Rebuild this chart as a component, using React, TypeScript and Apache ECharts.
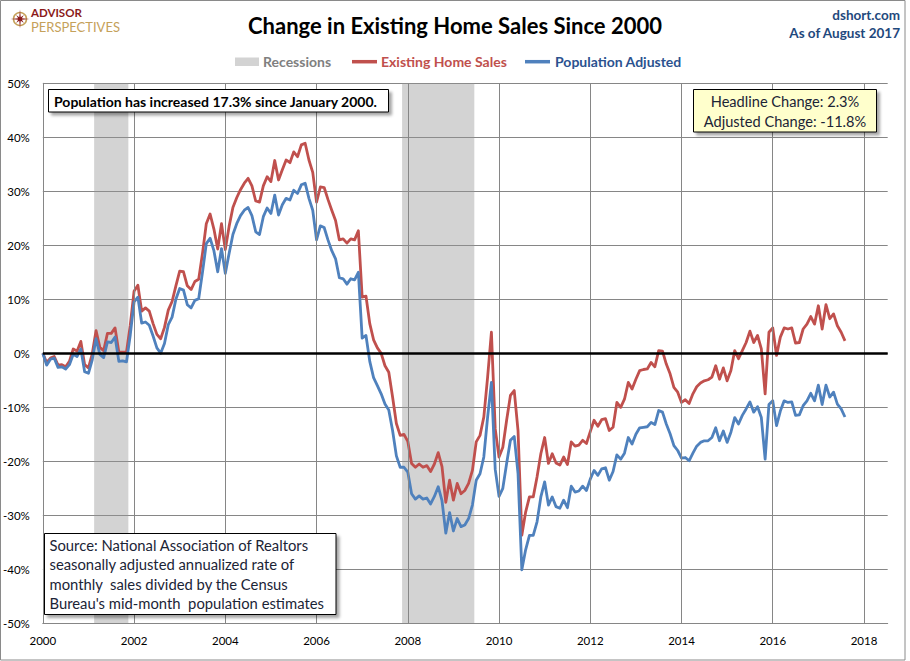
import React, { useEffect, useRef } from "react";
import * as echarts from "echarts";

const START_YEAR = 2000;

// Existing Home Sales, % change since Jan 2000 (monthly, Jan 2000 - Aug 2017)
const existingHomeSales = [
  0.0, -1.7, -0.9, -0.6, -2.2, -2.1, -2.5, -1.5, 0.8, 0.4, 2.2, -2.1,
  -2.7, -0.1, 4.2, 1.1, 0.5, 3.7, 3.7, 4.7, 0.2, 0.2, 0.2, 5.2,
  11.5, 12.6, 7.8, 8.4, 7.8, 5.5, 3.5, 2.7, 4.8, 8.0, 9.6, 12.5,
  15.2, 15.1, 12.5, 11.8, 13.3, 13.7, 18.5, 24.0, 25.8, 23.0, 19.3, 24.0,
  19.2, 23.5, 27.0, 28.8, 30.3, 31.5, 32.4, 31.0, 28.2, 28.0, 31.0, 32.7,
  31.8, 35.7, 32.1, 34.0, 35.8, 35.3, 37.3, 36.4, 38.6, 38.9, 35.8, 33.5,
  28.0, 30.8, 30.7, 28.5, 26.5, 24.6, 21.0, 21.2, 20.4, 21.2, 21.0, 22.7,
  10.4, 10.6, 5.5, 2.5, 1.0, 0.0, -2.3, -3.5, -8.1, -13.0, -15.2, -15.0,
  -16.3, -20.4, -21.1, -20.5, -21.1, -20.8, -21.9, -20.5, -18.4, -21.0, -27.6, -23.5,
  -27.2, -24.1, -26.0, -25.4, -24.1, -21.7, -16.4, -15.2, -11.8, -4.4, 3.9, -14.0,
  -19.2, -17.4, -12.4, -7.8, -6.9, -14.3, -33.7, -29.4, -26.6, -26.6, -22.9, -18.6,
  -15.6, -20.4, -18.6, -20.3, -20.7, -19.2, -20.6, -16.4, -17.2, -17.0, -16.1, -16.7,
  -14.5, -12.4, -13.5, -12.3, -12.1, -14.3, -13.7, -9.1, -10.0, -8.5, -5.4, -6.6,
  -4.8, -3.2, -3.0, -2.9, -1.7, -2.5, 0.5, 0.4, -2.0, -3.8, -6.3, -7.2,
  -9.1, -8.6, -9.3, -7.5, -6.2, -5.5, -5.1, -4.9, -4.4, -2.3, -4.8, -2.7,
  -5.1, -3.2, 0.5, -1.0, 0.5, 2.0, 4.1, 2.0, 3.3, 0.8, -7.5, 3.9,
  4.7, -0.4, 3.0, 4.7, 4.5, 4.7, 1.9, 2.0, 4.5, 5.4, 6.8, 5.4,
  8.8, 4.5, 9.0, 6.4, 7.3, 5.1, 3.9, 2.3,
];

// Population Adjusted, % change since Jan 2000
const populationAdjusted = [
  0.0, -2.2, -1.1, -0.9, -2.6, -2.5, -2.9, -2.1, -0.2, -0.6, 0.8, -3.4,
  -3.7, -1.2, 2.7, -0.2, -0.8, 2.1, 2.0, 3.0, -1.5, -1.4, -1.6, 3.4,
  9.5, 10.4, 5.6, 5.8, 5.2, 3.2, 1.0, 0.0, 1.8, 5.3, 6.7, 10.0,
  12.0, 11.7, 9.0, 8.4, 9.8, 10.1, 15.0, 20.3, 21.3, 19.0, 15.1, 19.4,
  14.8, 18.5, 22.0, 24.0, 25.5, 26.5, 27.0, 25.5, 22.5, 22.0, 25.3, 26.9,
  25.9, 29.3, 25.6, 27.5, 28.7, 28.4, 30.2, 29.6, 31.2, 31.5, 28.7, 26.5,
  21.0, 23.6, 23.3, 21.0, 19.0, 17.5, 14.0, 13.8, 12.8, 13.8, 13.6, 15.0,
  2.8, 3.3, -1.5, -4.5, -6.0, -7.5, -9.4, -10.5, -14.3, -19.0, -21.1, -21.1,
  -22.0, -26.0, -27.0, -26.4, -27.0, -26.8, -27.9, -26.5, -24.7, -27.3, -33.3, -29.5,
  -32.9, -30.6, -32.1, -31.8, -30.6, -28.1, -23.5, -22.3, -19.2, -11.8, -5.4, -21.5,
  -26.5, -25.0, -20.4, -16.1, -15.4, -22.3, -40.1, -36.4, -33.7, -33.7, -31.2, -26.6,
  -23.8, -28.1, -26.6, -28.4, -28.7, -27.2, -28.6, -24.6, -25.7, -25.5, -24.6, -25.4,
  -23.3, -21.7, -22.6, -21.4, -21.2, -23.5, -21.9, -18.8, -19.6, -18.5, -15.6, -16.8,
  -15.0, -13.8, -13.7, -13.6, -12.8, -13.2, -10.6, -10.9, -13.1, -14.9, -17.1, -18.0,
  -19.4, -19.3, -19.9, -18.5, -17.2, -16.5, -16.2, -16.2, -15.6, -13.8, -16.2, -14.4,
  -16.5, -14.6, -11.9, -13.1, -11.5, -10.3, -9.0, -10.9, -9.9, -11.9, -19.6, -9.5,
  -8.8, -13.4, -10.7, -8.8, -9.1, -9.0, -11.5, -11.4, -9.7, -8.8, -7.4, -8.8,
  -5.9, -9.5, -5.9, -8.1, -7.2, -9.4, -10.3, -11.8,
];

const yearTicks = [2000, 2002, 2004, 2006, 2008, 2010, 2012, 2014, 2016, 2018];
const recessions = [
  [2001.125, 2001.875],
  [2007.875, 2009.458],
];
const X_MIN = 2000;
const X_MAX = 2018.52;
const Y_MIN = -50;
const Y_MAX = 50;
const Y_STEP = 10;

const sourceLines = [
  "Source: National Association of Realtors",
  "seasonally adjusted annualized rate of",
  "monthly  sales divided by the Census",
  "Bureau's mid-month  population estimates",
];
const headlineLines = ["Headline Change: 2.3%", "Adjusted Change: -11.8%"];
const populationNote = "Population has increased 17.3% since January 2000.";

const FONT = 'Lato, "Open Sans", "DejaVu Sans", sans-serif';
const GRID_COLOR = "#868686";
const RED = "#C0504D";
const BLUE = "#4F81BD";

function toPoints(vals: number[]) {
  return vals.map((v, i) => [START_YEAR + i / 12, v]);
}

function txt(text: string, x: number, y: number, o: any = {}) {
  return {
    type: "text",
    z: 20,
    style: {
      text,
      x,
      y,
      fontFamily: FONT,
      fontSize: o.size || 12,
      fontWeight: o.weight || "normal",
      fill: o.color || "#000",
      align: o.align || "left",
      textAlign: o.align || "left",
      verticalAlign: "middle",
      textVerticalAlign: "middle",
    },
  };
}

function starPoints(cx: number, cy: number) {
  const pts: number[][] = [];
  for (let k = 0; k < 16; k++) {
    const a = ((k * 22.5 - 90) * Math.PI) / 180;
    const r = k % 2 === 1 ? 2 : k % 4 === 0 ? 9.5 : 5.5;
    pts.push([cx + r * Math.cos(a), cy + r * Math.sin(a)]);
  }
  return pts;
}

export default function App() {
  const ref = useRef<HTMLDivElement>(null);

  useEffect(() => {
    document.body.style.margin = "0";
    if (!ref.current) return;
    const chart = echarts.init(ref.current, null, { renderer: "svg" });

    const redData = toPoints(existingHomeSales);
    const blueData = toPoints(populationAdjusted);

    const boxShadow = {
      shadowBlur: 3,
      shadowOffsetX: 3,
      shadowOffsetY: 3,
      shadowColor: "rgba(0,0,0,0.35)",
    };

    const graphic: any[] = [
      // outer frame
      {
        type: "rect",
        z: 0,
        shape: { x: 0.5, y: 0.5, width: 904.5, height: 659.5 },
        style: { fill: "none", stroke: "#8A8A8A", lineWidth: 1 },
      },
      // logo
      {
        type: "circle",
        z: 20,
        shape: { cx: 20, cy: 19, r: 6.5 },
        style: { fill: "none", stroke: "#C5A15A", lineWidth: 1.5 },
      },
      {
        type: "polygon",
        z: 21,
        shape: { points: starPoints(20, 19) },
        style: { fill: "#8B1A1A" },
      },
      txt("ADVISOR", 31, 12.6, { size: 11.5, weight: "bold", color: "#8B1A1A" }),
      txt("PERSPECTIVES", 31, 27.4, { size: 13, color: "#C5A15A" }),
      // title
      txt("Change in Existing Home Sales Since 2000", 455, 25, {
        size: 22,
        weight: "bold",
        align: "center",
      }),
      txt("dshort.com", 900, 15, { size: 13.5, weight: "bold", color: "#1F497D", align: "right" }),
      txt("As of August 2017", 900, 33, { size: 13.5, weight: "bold", color: "#1F497D", align: "right" }),
      // legend
      {
        type: "rect",
        z: 20,
        shape: { x: 235, y: 57.5, width: 24, height: 8.5 },
        style: { fill: "#D3D3D3" },
      },
      txt("Recessions", 263, 61.7, { size: 14, weight: "bold", color: "#808080" }),
      {
        type: "line",
        z: 20,
        shape: { x1: 352, y1: 61.7, x2: 377, y2: 61.7 },
        style: { stroke: RED, lineWidth: 3.5 },
      },
      txt("Existing Home Sales", 381, 61.7, { size: 14, weight: "bold", color: RED }),
      {
        type: "line",
        z: 20,
        shape: { x1: 525, y1: 61.7, x2: 550, y2: 61.7 },
        style: { stroke: BLUE, lineWidth: 3.5 },
      },
      txt("Population Adjusted", 555, 61.7, { size: 14, weight: "bold", color: "#2B528F" }),
      // population note box
      {
        type: "rect",
        z: 18,
        shape: { x: 48.5, y: 89.5, width: 340, height: 22.5 },
        style: { fill: "#FFFFFF", stroke: "#000", lineWidth: 1, ...boxShadow },
      },
      txt(populationNote, 54, 101, { size: 14, weight: "bold" }),
      // headline box
      {
        type: "rect",
        z: 18,
        shape: { x: 693.5, y: 89.5, width: 183, height: 42.5 },
        style: { fill: "#FFFFCC", stroke: "#000", lineWidth: 1, ...boxShadow },
      },
      txt(headlineLines[0], 785, 101.5, { size: 14.6, align: "center", color: "#1B2436" }),
      txt(headlineLines[1], 785, 121.5, { size: 14.6, align: "center", color: "#1B2436" }),
      // source box
      {
        type: "rect",
        z: 18,
        shape: { x: 44.5, y: 533.5, width: 291.5, height: 81 },
        style: { fill: "#FFFFFF", stroke: "#000", lineWidth: 1, ...boxShadow },
      },
      ...sourceLines.map((l, i) =>
        txt(l, 49.5, 545 + i * 19.4, { size: 14.8, color: "#1B2436" })
      ),
    ];

    const option: any = {
      animation: false,
      backgroundColor: "#FFFFFF",
      grid: { left: 41.7, right: 22.3, top: 83.3, bottom: 37.7, containLabel: false },
      xAxis: {
        type: "value",
        min: X_MIN,
        max: X_MAX,
        interval: 2,
        axisLine: { show: true, onZero: false, lineStyle: { color: GRID_COLOR, width: 1 } },
        axisTick: { show: false },
        splitLine: { show: false },
        axisLabel: {
          margin: 11,
          color: "#000",
          fontFamily: FONT,
          fontSize: 11.5,
          formatter: (v: number) => (yearTicks.indexOf(v) >= 0 ? String(v) : ""),
        },
      },
      yAxis: {
        type: "value",
        min: Y_MIN,
        max: Y_MAX,
        interval: Y_STEP,
        axisLine: { show: true, lineStyle: { color: GRID_COLOR, width: 1 } },
        axisTick: { show: false },
        splitLine: { show: true, lineStyle: { color: GRID_COLOR, width: 1 } },
        axisLabel: {
          margin: 13,
          color: "#000",
          fontFamily: FONT,
          fontSize: 11.5,
          formatter: (v: number) => v + "%",
        },
      },
      series: [
        {
          name: "Recessions",
          type: "line",
          data: redData,
          z: 1,
          silent: true,
          showSymbol: false,
          lineStyle: { opacity: 0 },
          markArea: {
            silent: true,
            itemStyle: { color: "rgba(150,150,150,0.42)" },
            data: recessions.map((r) => [{ xAxis: r[0] }, { xAxis: r[1] }]),
          },
        },
        {
          name: "grid",
          type: "line",
          data: redData,
          z: 2,
          silent: true,
          showSymbol: false,
          lineStyle: { opacity: 0 },
          markLine: {
            silent: true,
            symbol: ["none", "none"],
            label: { show: false },
            lineStyle: { color: GRID_COLOR, width: 1, type: "solid" },
            data: [
              ...yearTicks.slice(1).map((y) => ({ xAxis: y })),
              { yAxis: 0, lineStyle: { color: "#000", width: 2.6, type: "solid" } },
            ],
          },
        },
        {
          name: "Existing Home Sales",
          type: "line",
          data: redData,
          z: 3,
          showSymbol: false,
          lineStyle: { color: RED, width: 2.8, join: "round" },
          itemStyle: { color: RED },
        },
        {
          name: "Population Adjusted",
          type: "line",
          data: blueData,
          z: 4,
          showSymbol: false,
          lineStyle: { color: BLUE, width: 2.8, join: "round" },
          itemStyle: { color: BLUE },
        },
      ],
      graphic,
    };

    chart.setOption(option);
    return () => chart.dispose();
  }, []);

  return <div ref={ref} style={{ width: 910, height: 661 }} />;
}
